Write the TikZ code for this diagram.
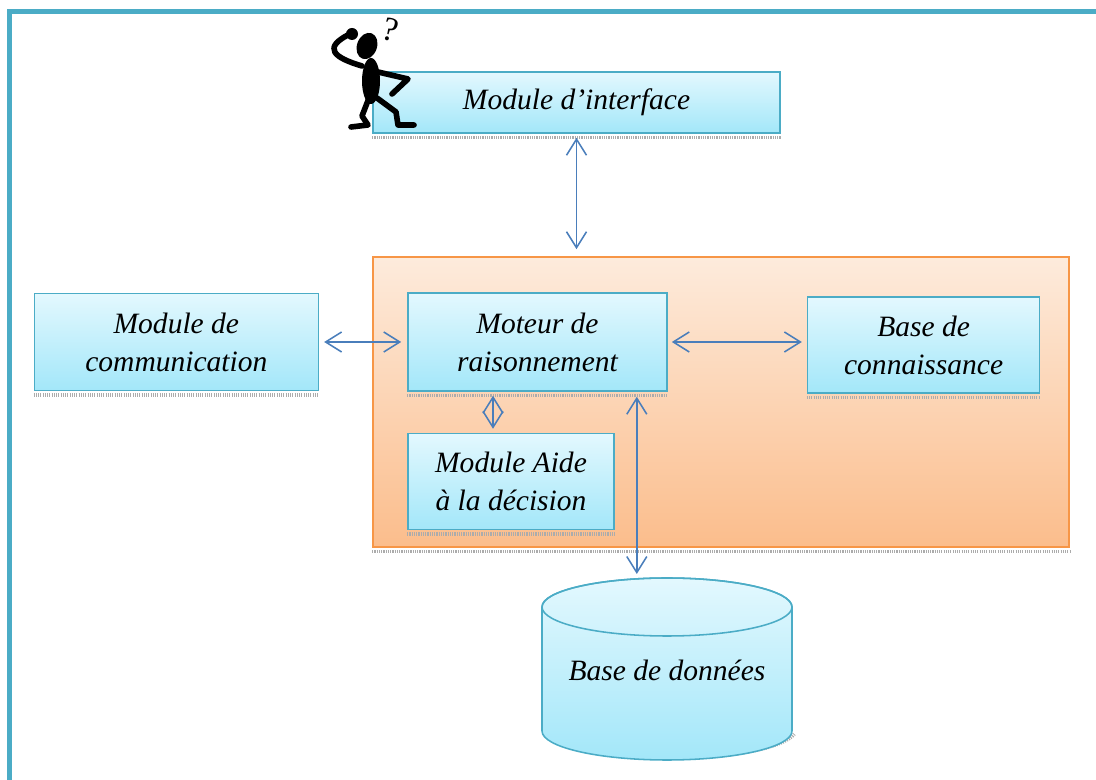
\documentclass[tikz,border=0pt]{standalone}
\usepackage{fontspec}
\setmainfont{Liberation Serif}
\usepackage{tikz}
\usetikzlibrary{positioning,arrows.meta,shapes}

\definecolor{framecol}{HTML}{4BACC6}
\definecolor{boxline}{HTML}{4BACC6}
\definecolor{boxtop}{HTML}{E3F8FE}
\definecolor{boxbot}{HTML}{A3E7F9}
\definecolor{orangeline}{HTML}{F79646}
\definecolor{orangetop}{HTML}{FDEBDC}
\definecolor{orangebot}{HTML}{FBBD8C}
\definecolor{arrowcol}{HTML}{4A7EBB}

\begin{document}
\begin{tikzpicture}[x=0.025cm, y=0.025cm,
    modbox/.style={draw=boxline, line width=1.1pt, top color=boxtop, bottom color=boxbot,
                   inner sep=0pt, align=center, font=\itshape\fontsize{21}{27}\selectfont},
    corebox/.style={draw=orangeline, line width=1.1pt, top color=orangetop, bottom color=orangebot, inner sep=0pt},
    dblarrow/.style={draw=arrowcol, line width=1.1pt, {Straight Barb[length=0.4cm,width=0.5cm]}-{Straight Barb[length=0.4cm,width=0.5cm]}},
    dropline/.style={draw=gray!65, line width=2.6pt, dash pattern=on 0.8pt off 0.8pt},
    figline/.style={draw=black, line width=4pt, line cap=round, line join=round}]
  \useasboundingbox (0,0) rectangle (1096,780);

  % page frame
  \draw[framecol, line width=3.6pt] (1096,768.5) -| (9.5,0);

  % central block
  \node[corebox, minimum width=17.4cm, minimum height=7.25cm] (noyau) at (721,378) {};

  % modules
  \node[modbox, minimum width=10.175cm, minimum height=1.525cm] (iface) at (576.5,677.5) {Module d'interface};
  \node[modbox, minimum width=6.475cm, minimum height=2.45cm] (moteur) at (537.5,438) {Moteur de\\raisonnement};
  \node[modbox, minimum width=7.1cm, minimum height=2.425cm, left=2.2cm of moteur] (comm) {Module de\\communication};
  \node[modbox, minimum width=5.8cm, minimum height=2.4cm, right=3.475cm of moteur, yshift=-0.075cm] (conn) {Base de\\connaissance};
  \node[modbox, minimum width=5.15cm, minimum height=2.4cm, below=1.025cm of moteur.south west, anchor=north west] (aide) {Module Aide\\à la décision};

  % shadows under the boxes
  \foreach \b in {iface,noyau,comm,moteur,conn,aide}
    \draw[dropline] ([yshift=-0.09cm]\b.south west) -- ([yshift=-0.09cm]\b.south east);

  % database
  \draw[dropline] (548,46) arc[start angle=190, end angle=350, x radius=125, y radius=29];
  \draw[boxline, line width=1.1pt, top color=boxtop, bottom color=boxbot]
    (542,173) -- (542,49) arc[start angle=180, end angle=360, x radius=125, y radius=29]
    -- (792,173) arc[start angle=0, end angle=180, x radius=125, y radius=29] -- cycle;
  \draw[boxline, line width=1.1pt] (667,173) ellipse[x radius=125, y radius=29];
  \coordinate (bddtop) at (667,202);
  \node[font=\itshape\fontsize{21}{27}\selectfont] (bdd) at (667,110) {Base de données};

  % links
  \draw[dblarrow, shorten <=0.1cm, shorten >=0.175cm] (iface.south) -- (iface.south |- noyau.north);
  \draw[dblarrow, shorten <=0.125cm, shorten >=0.15cm] (comm.east) -- (comm.east -| moteur.west);
  \draw[dblarrow, shorten <=0.1cm, shorten >=0.125cm] (moteur.east) -- (moteur.east -| conn.west);
  \draw[dblarrow, shorten <=0.1cm, shorten >=0.1cm] ([xshift=-0.45cm]aide.north |- moteur.south) -- ([xshift=-0.45cm]aide.north);
  \draw[dblarrow, shorten <=0.125cm, shorten >=0.1cm] ([xshift=-0.775cm]moteur.south east) -- ([xshift=-0.775cm]moteur.south east |- bddtop);

  % puzzled little man
  \fill[rotate around={-20:(367,734)}] (367,734) ellipse[x radius=10, y radius=13.5];
  \fill (371,699) ellipse[x radius=9, y radius=23];
  \fill (352,746) circle[radius=6];
  \draw[figline] (362,714) .. controls (335,722) and (320,732) .. (352,747);
  \draw[figline] (378,708) -- (408,701) -- (392,686);
  \draw[figline] (369,682) -- (362,664) -- (368,655) -- (351,653);
  \draw[figline] (377,682) -- (396,668) -- (398,655) -- (414,655);
  \node[font=\fontsize{24}{24}\selectfont, rotate=-15] (qmark) at (391,750) {?};
\end{tikzpicture}
\end{document}
